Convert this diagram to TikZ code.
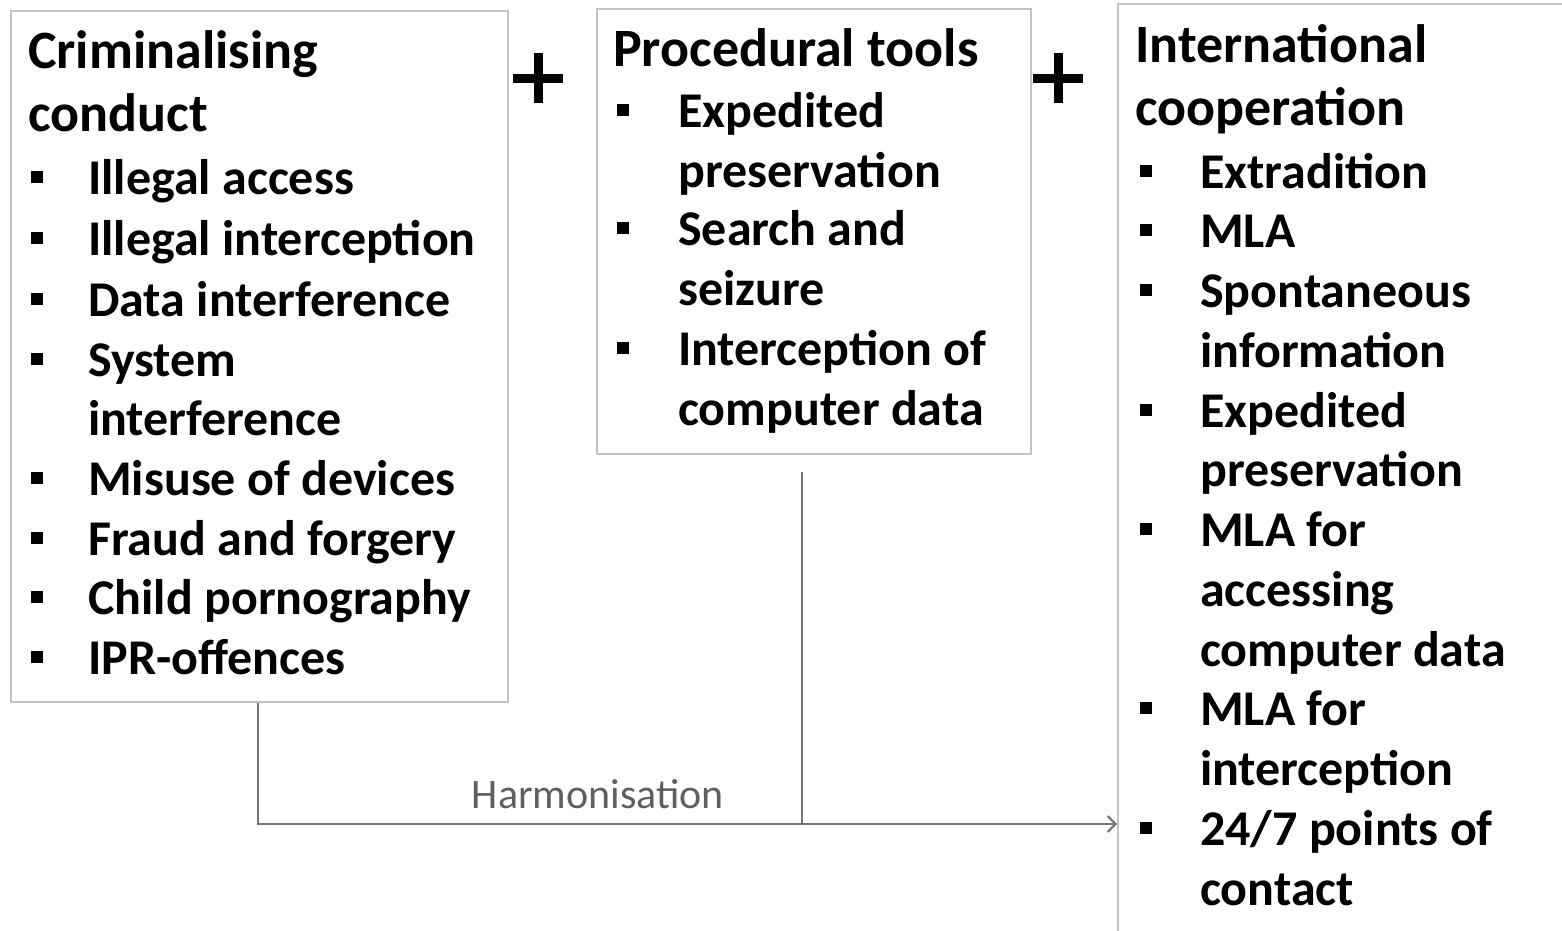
\documentclass[tikz,border=0pt]{standalone}
\usepackage{fontspec}
\setmainfont{Carlito}
\usetikzlibrary{arrows.meta}
\definecolor{boxgray}{RGB}{195,195,195}
\definecolor{linegray}{RGB}{115,115,115}
\definecolor{labelgray}{RGB}{95,95,95}
\begin{document}
\begin{tikzpicture}[x=1pt,y=-1pt,
  box/.style={draw=boxgray, line width=2pt, anchor=north west, inner sep=0pt},
  txt/.style={anchor=base west, inner sep=0pt, font=\fontsize{50}{60}\selectfont\bfseries},
  ttl/.style={txt, font=\fontsize{54}{60}\selectfont\bfseries},
  bul/.style={fill=black, minimum size=12pt, inner sep=0pt},
  conn/.style={draw=linegray, line width=2pt},
  plussign/.style={line width=9pt}]
\useasboundingbox (0,0) rectangle (1562,930);
\clip (0,0) rectangle (1562,930);
% boxes
\node[box, minimum width=497pt, minimum height=691pt] (b1) at (10,10) {};
\node[box, minimum width=434pt, minimum height=445pt] (b2) at (596,8) {};
\node[box, minimum width=470pt, minimum height=950pt] (b3) at (1117,3) {};
% plus signs
\draw[plussign] (513,78) -- (563,78) (538,53) -- (538,103);
\draw[plussign] (1033,78) -- (1083,78) (1058,53) -- (1058,103);
% box 1
\node[ttl] (t1a) at (28,68) {Criminalising};
\node[ttl] (t1b) at (28,131) {conduct};
\foreach \y/\t [count=\i] in {194/Illegal access, 255/Illegal interception, 316/Data interference, 376/System, 495/Misuse of devices, 555/Fraud and forgery, 614/Child pornography, 674/IPR-offences}{
  \node[bul] (p1-\i) at (37,\y-17) {};
  \node[txt] (i1-\i) at (88,\y) {\t};
}
\node[txt] (i1-x) at (88,435) {interference};
% box 2
\node[ttl] (t2a) at (613,66) {Procedural tools};
\foreach \y/\t [count=\i] in {127/Expedited, 245/Search and, 365/Interception of}{
  \node[bul] (p2-\i) at (623,\y-17) {};
  \node[txt] (i2-\i) at (678,\y) {\t};
}
\node[txt] (i2-a) at (678,187) {preservation};
\node[txt] (i2-b) at (678,305) {seizure};
\node[txt] (i2-c) at (678,425) {computer data};
% box 3
\node[ttl] (t3a) at (1135,62) {International};
\node[ttl] (t3b) at (1135,125) {cooperation};
\foreach \y/\t [count=\i] in {188/Extradition, 247/MLA, 307/Spontaneous, 427/Expedited, 546/MLA for, 725/MLA for, 845/{24/7 points of}}{
  \node[bul] (p3-\i) at (1146,\y-17) {};
  \node[txt] (i3-\i) at (1200,\y) {\t};
}
\foreach \y/\t [count=\i] in {367/information, 486/preservation, 606/accessing, 666/computer data, 785/interception, 905/contact}{
  \node[txt] (j3-\i) at (1200,\y) {\t};
}
% connectors
\coordinate (hy) at (0,824);
\coordinate (s1) at ([xshift=248pt]b1.south west);
\coordinate (s2) at ([xshift=-12pt,yshift=-17pt]b2.south);
\draw[conn,-{Straight Barb[length=8pt,width=16pt,line width=2pt]}] (s1) |- (b3.west |- hy);
\draw[conn] (s2) -- (s2 |- hy);
\node[anchor=base, inner sep=0pt, text=labelgray, font=\fontsize{42}{46}\selectfont] (lbl) at (598,808) {Harmonisation};
\end{tikzpicture}
\end{document}
